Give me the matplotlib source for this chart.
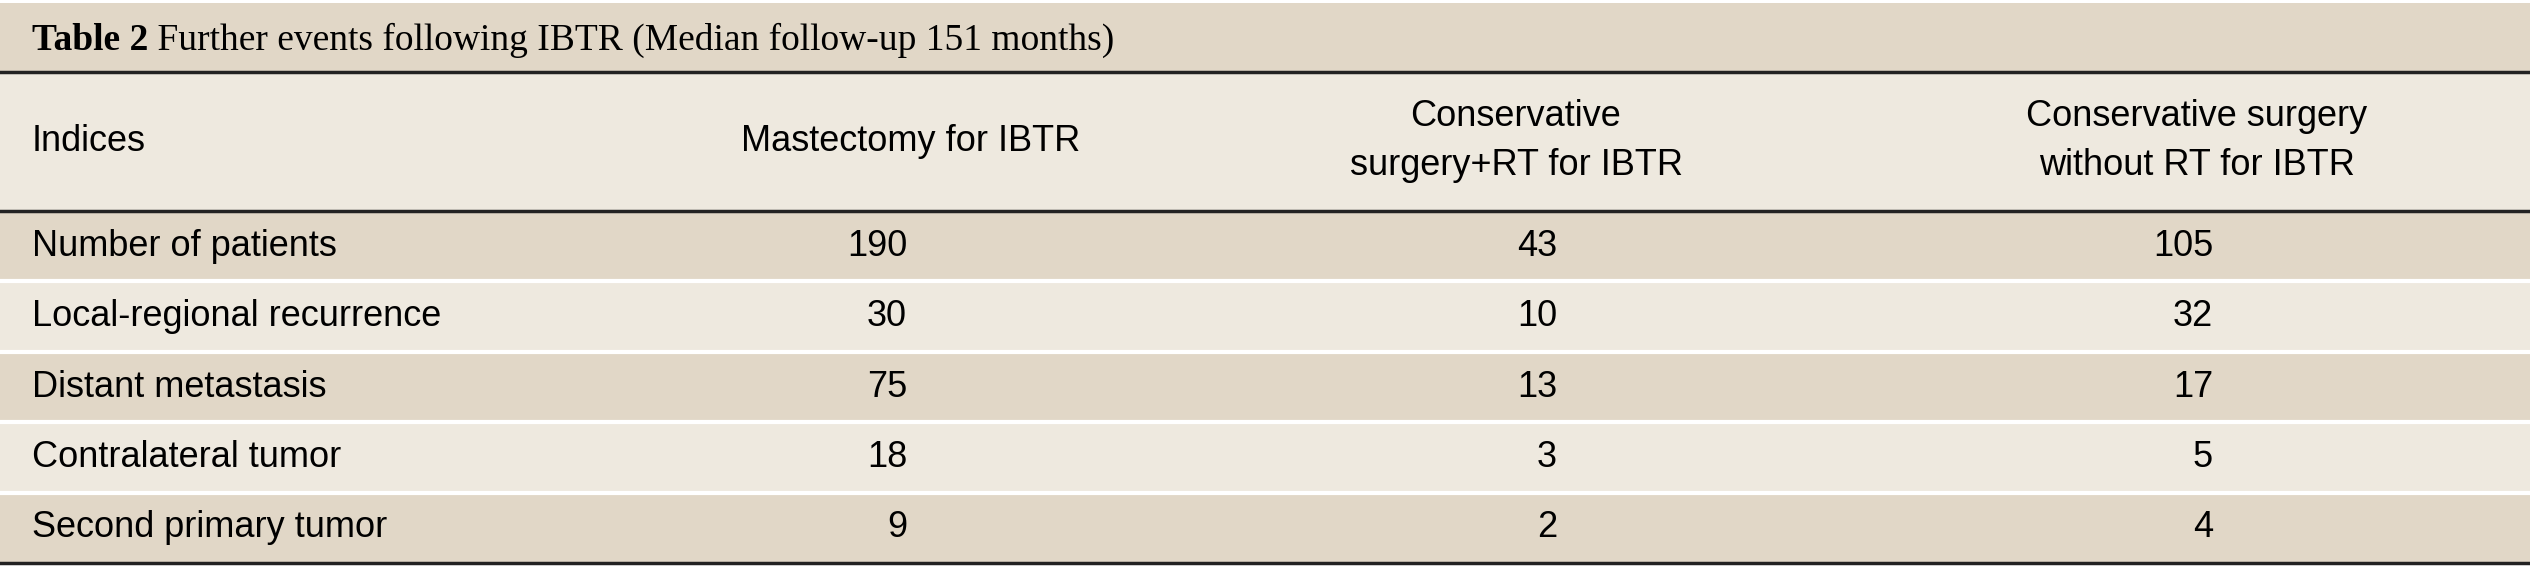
import matplotlib
matplotlib.use("Agg")
from matplotlib import pyplot as plt

title_bold = "Table 2"
title_rest = " Further events following IBTR (Median follow-up 151 months)"
headers = ["Indices", "Mastectomy for IBTR", "Conservative\nsurgery+RT for IBTR",
           "Conservative surgery\nwithout RT for IBTR"]
indices = ["Number of patients", "Local-regional recurrence", "Distant metastasis",
           "Contralateral tumor", "Second primary tumor"]
mastectomy = [190, 30, 75, 18, 9]
cs_rt = [43, 10, 13, 3, 2]
cs_no_rt = [105, 32, 17, 5, 4]

dark = "#e1d7c7"
light = "#eee9df"
W, H = 2530, 569

fig = plt.figure(figsize=(25.3, 5.69), dpi=100)
ax = fig.add_axes([0, 0, 1, 1])
ax.set_xlim(0, W)
ax.set_ylim(H, 0)
ax.axis("off")

# title bar + header
ax.add_patch(plt.Rectangle((0, 3), W, 69, color=dark, lw=0))
ax.add_patch(plt.Rectangle((0, 72), W, 139, color=light, lw=0))
t = ax.text(32, 40, title_bold, fontfamily="Liberation Serif", fontweight="bold",
            fontsize=27, va="center")
fig.canvas.draw()
bb = t.get_window_extent()
ax.text(32 + bb.width, 40, title_rest, fontfamily="Liberation Serif", fontsize=27, va="center")

sans = dict(fontfamily="Liberation Sans", fontsize=26, va="center")
ax.text(32, 141, headers[0], ha="left", **sans)
for x, h in zip([911, 1516, 2197], headers[1:]):
    ax.text(x, 141, h, ha="center", linespacing=1.55, **sans)

row_top = 211
row_h = 70.4
for i, name in enumerate(indices):
    y0 = row_top + i * row_h
    ax.add_patch(plt.Rectangle((0, y0), W, row_h, color=dark if i % 2 == 0 else light, lw=0))
    if i > 0:
        ax.plot([0, W], [y0, y0], color="white", lw=3)
    yc = y0 + row_h / 2
    ax.text(32, yc, name, ha="left", **sans)
    ax.text(907, yc, str(mastectomy[i]), ha="right", **sans)
    ax.text(1557, yc, str(cs_rt[i]), ha="right", **sans)
    ax.text(2213, yc, str(cs_no_rt[i]), ha="right", **sans)

for y in [72, 211, 563]:
    ax.plot([0, W], [y, y], color="#222222", lw=2.5)

fig.savefig("out.png", dpi=100)
